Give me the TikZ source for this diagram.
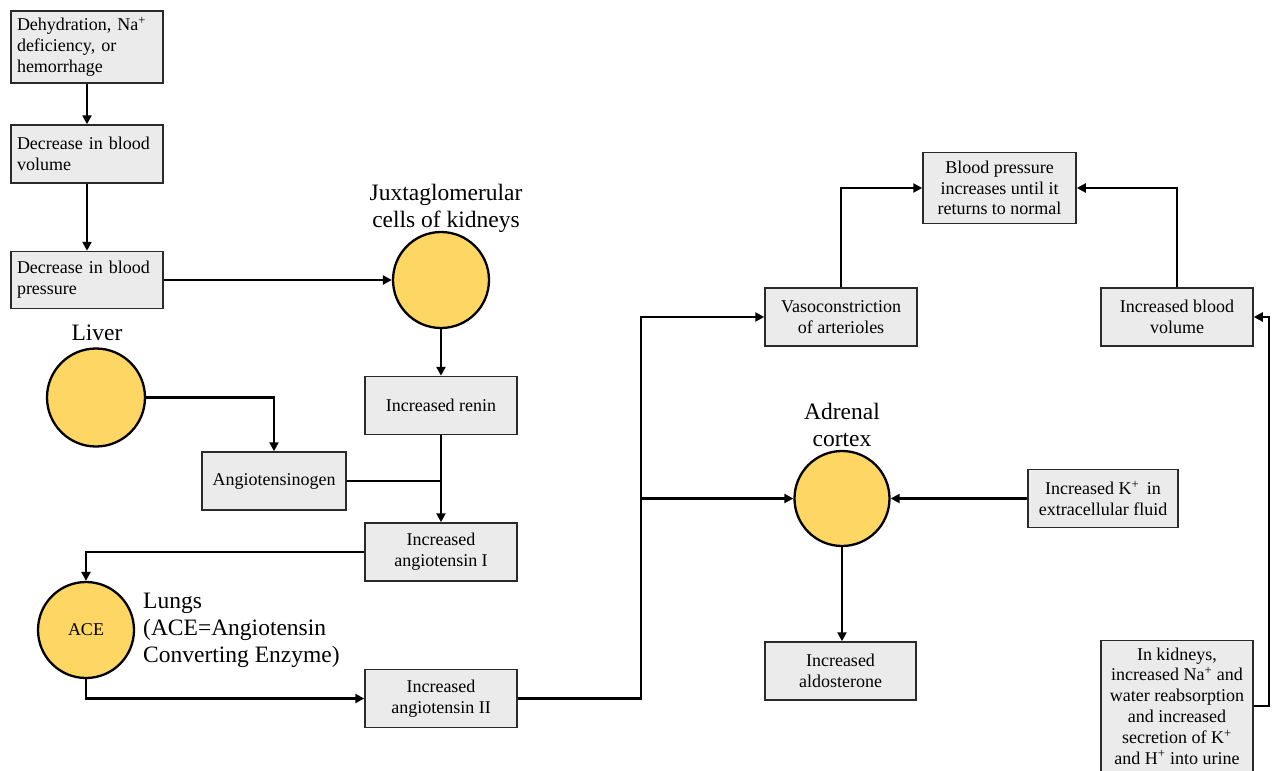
\documentclass[tikz,border=0pt]{standalone}
\usepackage{fontspec}
\setmainfont{Liberation Serif}
\usetikzlibrary{arrows.meta}
\definecolor{boxfill}{HTML}{EBEBEB}
\definecolor{boxline}{HTML}{2A2A2A}
\definecolor{cellfill}{HTML}{FDD663}
\tikzset{
  box/.style={draw=boxline, line width=1.5pt, fill=boxfill, minimum width=152pt, minimum height=58pt,
    inner sep=0pt, align=center, font=\fontsize{18}{20.8}\selectfont},
  lbox/.style={box, text width=140pt, align=left},
  cell/.style={circle, draw=black, line width=2.3pt, fill=cellfill, minimum size=96pt, inner sep=0pt,
    font=\fontsize{18}{20.8}\selectfont},
  biglabel/.style={font=\fontsize{23.5}{27}\selectfont, inner sep=0pt},
  conn/.style={line width=2.8pt, draw=black},
  arr/.style={conn, -{Triangle[length=9pt,width=9pt]}},
}
\begin{document}
\begin{tikzpicture}[x=1pt,y=-1pt]
\useasboundingbox (0,0) rectangle (1272,771);
\clip (0,0) rectangle (1272,771);

% left column
\node[lbox, minimum height=72pt] (d1) at (87,47) {Dehydration, Na\textsuperscript{+}\\deficiency, or\\hemorrhage};
\node[lbox, minimum height=58pt] (d2) at (87,154) {Decrease in blood\\volume};
\node[lbox, minimum height=57pt] (d3) at (87,280) {Decrease in blood\\pressure};

% juxtaglomerular
\node[cell] (jg) at (441,280) {};
\node[biglabel, align=center] (jglab) at (446,208) {Juxtaglomerular\\cells of kidneys};
\node[box] (renin) at (441,405.5) {Increased renin};

% liver
\node[cell, minimum size=98pt] (liver) at (96,397.5) {};
\node[biglabel] (liverlab) at (97,333) {Liver};
\node[box, minimum width=144pt] (angio) at (274,481) {Angiotensinogen};

\node[box] (ang1) at (441,552) {Increased\\angiotensin I};

% lungs
\node[cell] (ace) at (86,630) {ACE};
\node[biglabel, anchor=west, align=left] (lunglab) at (143,630) {Lungs\\(ACE=Angiotensin\\Converting Enzyme)};
\node[box] (ang2) at (441,698.5) {Increased\\angiotensin II};

% right part
\node[box] (vaso) at (841,317) {Vasoconstriction\\of arterioles};
\node[box, minimum width=153pt, minimum height=71pt] (bp) at (999.5,188) {Blood pressure\\increases until it\\returns to normal};
\node[box] (vol) at (1177,317) {Increased blood\\volume};

\node[cell, minimum size=95pt] (adr) at (842,498.5) {};
\node[biglabel, align=center] (adrlab) at (842,425) {Adrenal\\cortex};
\node[box, minimum width=150pt] (kplus) at (1103,498.5) {Increased K\textsuperscript{+}\, in\\extracellular fluid};
\node[box, minimum width=151pt] (aldo) at (840.5,671) {Increased\\aldosterone};
\node[box, minimum height=131pt] (kid) at (1177,706) {In kidneys,\\increased Na\textsuperscript{+} and\\water reabsorption\\and increased\\secretion of K\textsuperscript{+}\\and H\textsuperscript{+} into urine};

% connectors
\draw[arr] (d1) -- (d2);
\draw[arr] (d2) -- (d3);
\draw[arr] (d3.east) -- (jg.west);
\draw[arr] (jg.south) -- (renin.north);
\draw[arr] (renin.south) -- (ang1.north);
\draw[arr] (liver.east) -| (angio.north);
\draw[conn] (angio.east) -- (angio.east -| renin.south);
\draw[arr] (ang1.west) -| (ace.north);
\draw[arr] (ace.south) |- (ang2.west);

\coordinate (bus) at (641,498.5);
\draw[arr] (ang2.east) -| (bus) |- (vaso.west);
\draw[arr] (bus) -- (adr.west);
\draw[arr] (vaso.north) |- (bp.west);
\draw[arr] (vol.north) |- (bp.east);
\draw[arr] (kplus.west) -- (adr.east);
\draw[arr] (adr.south) -- (adr.south |- aldo.north);
\coordinate (rt) at (1269,706);
\draw[arr] (kid.east) -- (rt) |- (vol.east);
\end{tikzpicture}
\end{document}
